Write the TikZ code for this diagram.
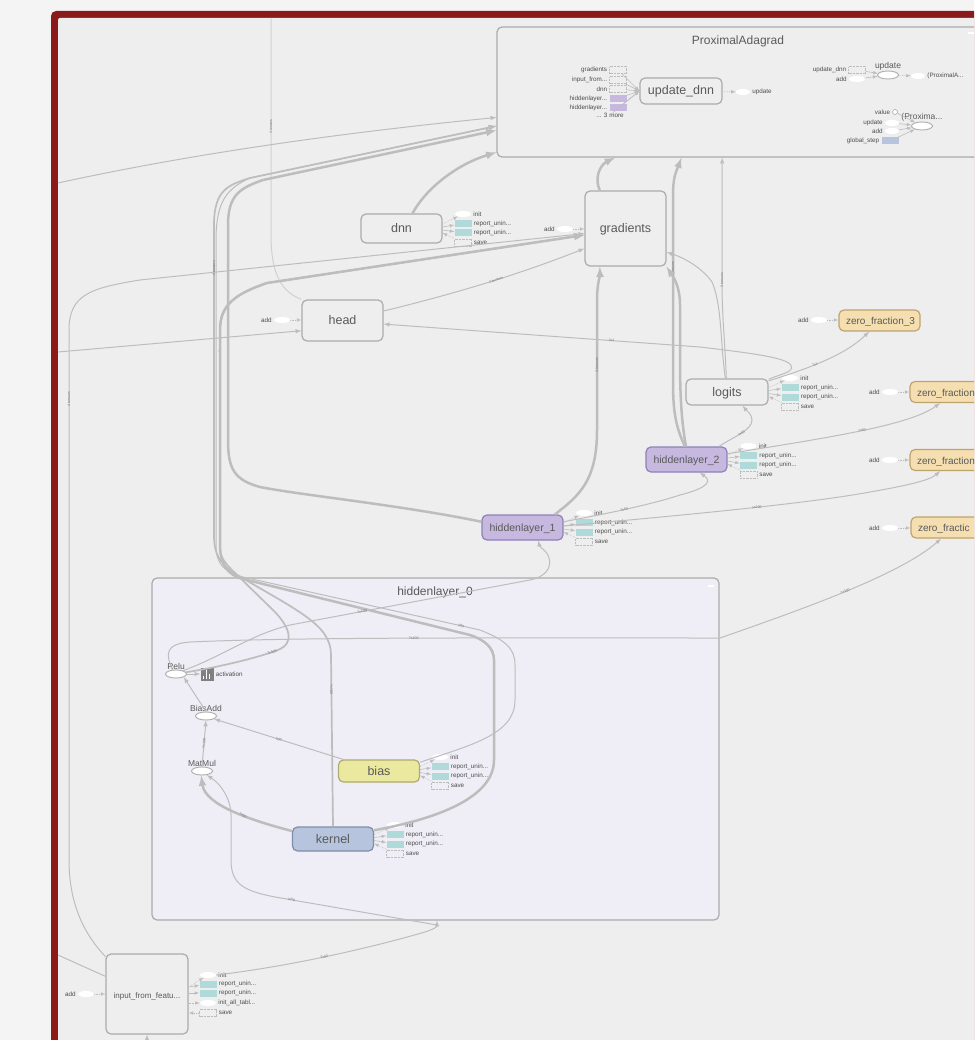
\documentclass[tikz,border=0pt]{standalone}
\usepackage{fontspec}
\setmainfont{Liberation Sans}
\usetikzlibrary{positioning,arrows,calc,shapes.geometric}
\definecolor{pagebg}{HTML}{F4F4F4}
\definecolor{framered}{HTML}{8B1A1A}
\definecolor{graphbg}{HTML}{EEEEEE}
\definecolor{groupbg}{HTML}{EFEDF5}
\definecolor{linegray}{HTML}{BDBDBD}
\definecolor{boxline}{HTML}{ABABAB}
\definecolor{textgray}{HTML}{5A5A5A}
\definecolor{hiddenfill}{HTML}{C6B8DF}
\definecolor{hiddenline}{HTML}{8F80B8}
\definecolor{biasfill}{HTML}{EBE89F}
\definecolor{biasline}{HTML}{AEAB6E}
\definecolor{kernelfill}{HTML}{B6C4DE}
\definecolor{kernelline}{HTML}{7F8EA8}
\definecolor{zerofill}{HTML}{F5DEB0}
\definecolor{zeroline}{HTML}{BFA36E}
\definecolor{reportfill}{HTML}{B0DADA}
\tikzset{
	mainbox/.style={draw=boxline, line width=1.2pt, rounded corners=5pt, fill=graphbg, inner sep=0pt, text=textgray, text height=8pt, text depth=0pt, font=\fontsize{12.5}{14}\selectfont},
	hiddenbox/.style={mainbox, minimum width=81pt, minimum height=25pt, fill=hiddenfill, draw=hiddenline, font=\fontsize{10.5}{12}\selectfont},
	zerobox/.style={mainbox, minimum width=81pt, minimum height=21pt, fill=zerofill, draw=zeroline, font=\fontsize{10}{12}\selectfont, text width=67pt, align=left},
	groupbox/.style={draw=boxline, line width=1.2pt, rounded corners=5pt, inner sep=0pt},
	grouptitle/.style={text=textgray, font=\fontsize{12}{13}\selectfont, inner sep=0pt, text height=8pt, text depth=0pt},
	opellipse/.style={ellipse, draw=boxline, line width=0.9pt, fill=white, inner sep=0pt, minimum width=21pt, minimum height=8pt},
	auxinit/.style={ellipse, fill=white, minimum width=16pt, minimum height=6pt, inner sep=0pt},
	auxreport/.style={fill=reportfill, minimum width=17pt, minimum height=7pt, inner sep=0pt},
	auxsave/.style={draw=linegray, densely dotted, line width=0.4pt, minimum width=17pt, minimum height=7pt, inner sep=0pt},
	auxlabel/.style={text=black!70, font=\fontsize{6.3}{7}\selectfont, inner sep=2pt},
	oplabel/.style={text=textgray, font=\fontsize{8.5}{9}\selectfont, inner sep=0pt},
	auxarrow/.style={linegray, line width=0.6pt, -latex},
	edgethin/.style={linegray, line width=1pt, -latex},
	edgemid/.style={linegray, line width=1.7pt, -latex},
	edgethick/.style={linegray, line width=2.5pt, -latex},
	edgelabel/.style={sloped, text=black!55, font=\fontsize{3.5}{4}\selectfont, inner sep=0.5pt}
}
\newcommand{\auxrow}[8]{
	\node[#3, label={[auxlabel]right:#6}] (#1#2) at (#4,#5) {};
	\draw[auxarrow, #8] ([yshift=#7pt]#1.east) -- (#1#2);
}
\newcommand{\auxgroup}[3]{
	\auxrow{#1}{init}{auxinit}{#2}{#3}{init}{4.5}{densely dotted}
	\auxrow{#1}{repa}{auxreport}{#2}{#3+9.5}{report\_unin...}{1.5}{}
	\auxrow{#1}{repb}{auxreport}{#2}{#3+19}{report\_unin...}{-1.5}{}
	\auxrow{#1}{save}{auxsave}{#2}{#3+28.5}{save}{-4.5}{latex-, densely dotted}
}
\newcommand{\addin}[3]{
	\node[auxinit, label={[auxlabel]left:add}] (add#1) at (#2,#3) {};
	\draw[auxarrow, densely dotted] (add#1) -- (add#1 -| #1.west);
}
\begin{document}
\begin{tikzpicture}[x=1pt, y=-1pt]
	\useasboundingbox (0,0) rectangle (974,1040);
	\clip (0,0) rectangle (974,1040);
	\fill[pagebg] (0,0) rectangle (974,1040);
	\fill[framered, rounded corners=5pt] (51,11) rectangle (1000,1070);
	\fill[graphbg, rounded corners=2pt] (58,18) rectangle (1000,1070);
	\fill[zerofill!70!orange] (971,155) rectangle (974,158);

	\node[groupbox, fill=graphbg, minimum width=483pt, minimum height=130pt] (prox) at (738.5,92) {};
	\node[groupbox, fill=groupbg, minimum width=567pt, minimum height=342pt] (hidden0) at (435.5,749) {};
	\node[grouptitle] (proxtitle) at (738,41) {ProximalAdagrad};
	\node[grouptitle] (hidden0title) at (435,591) {hiddenlayer\_0};
	\node[fill=white, minimum width=6pt, minimum height=1.5pt, inner sep=0pt] (proxbtn) at (971,33) {};
	\node[fill=white, minimum width=6pt, minimum height=1.5pt, inner sep=0pt] (hidden0btn) at (711,586) {};

	\node[mainbox, minimum width=81pt, minimum height=75pt] (gradients) at (625.5,228.5) {gradients};
	\node[mainbox, minimum width=81pt, minimum height=29pt] (dnn) at (401.5,228.5) {dnn};
	\node[mainbox, minimum width=81pt, minimum height=41pt] (head) at (342.5,320.5) {head};
	\node[mainbox, minimum width=82pt, minimum height=26pt] (logits) at (727,392) {logits};
	\node[hiddenbox] (hidden2) at (686.5,459.5) {hiddenlayer\_2};
	\node[hiddenbox] (hidden1) at (522.5,527.5) {hiddenlayer\_1};
	\node[zerobox] (zero3) at (879.5,320.5) {zero\_fraction\_3};
	\node[zerobox] (zero2) at (950.5,392) {zero\_fraction};
	\node[zerobox] (zero1) at (950.5,460) {zero\_fraction};
	\node[zerobox] (zero0) at (951.5,527.5) {zero\_fractic};
	\node[mainbox, minimum width=81pt, minimum height=22pt, fill=biasfill, draw=biasline] (bias) at (379,771) {bias};
	\node[mainbox, minimum width=81pt, minimum height=24pt, fill=kernelfill, draw=kernelline] (kernel) at (333,839) {kernel};
	\node[mainbox, minimum width=82pt, minimum height=80pt, font=\fontsize{8}{9}\selectfont] (input) at (147,994) {input\_from\_featu...};
	\node[mainbox, minimum width=82pt, minimum height=26pt] (updatednn) at (681,91) {update\_dnn};

	\node[opellipse, label={[oplabel]above:Relu}] (relu) at (176,674) {};
	\node[opellipse, label={[oplabel]above:BiasAdd}] (biasadd) at (206,716) {};
	\node[opellipse, label={[oplabel]above:MatMul}] (matmul) at (202,771) {};
	\node[opellipse, label={[oplabel]above:update}] (updateop) at (888,75) {};
	\node[opellipse, label={[oplabel]above:(Proxima...}] (proxop) at (922,126) {};
	\node[fill=gray, minimum size=13pt, inner sep=0pt, label={[auxlabel]right:activation}] (activation) at (207,674) {};
	\fill[white] (202.5,676) rectangle (204,679);
	\fill[white] (205.5,670) rectangle (207,679);
	\fill[white] (208.5,674) rectangle (210,679);

	\auxgroup{dnn}{463}{214}
	\auxgroup{logits}{790}{378}
	\auxgroup{hidden2}{748.5}{446}
	\auxgroup{hidden1}{584}{513}
	\auxgroup{bias}{440}{757}
	\auxgroup{kernel}{395}{825}
	\auxrow{input}{init}{auxinit}{208}{975}{init}{7}{densely dotted}
	\auxrow{input}{repa}{auxreport}{208}{984}{report\_unin...}{7}{}
	\auxrow{input}{repb}{auxreport}{208}{993}{report\_unin...}{1}{}
	\auxrow{input}{tabl}{auxinit}{208}{1003}{init\_all\_tabl...}{-9}{densely dotted}
	\auxrow{input}{save}{auxsave}{208}{1013}{save}{-19}{latex-, densely dotted}
	\addin{gradients}{565}{229}
	\addin{head}{282}{320}
	\addin{zero3}{819}{320}
	\addin{zero2}{890}{392}
	\addin{zero1}{890}{460}
	\addin{zero0}{890}{528}
	\addin{input}{86}{994}

	\node[auxsave, label={[auxlabel]left:gradients}] (ingrad) at (618,70) {};
	\node[auxsave, label={[auxlabel]left:input\_from...}] (ininput) at (618,80) {};
	\node[auxsave, label={[auxlabel]left:dnn}] (indnn) at (618,89) {};
	\node[auxsave, fill=hiddenfill, draw=none, label={[auxlabel]left:hiddenlayer...}] (inhida) at (618,98.5) {};
	\node[auxsave, fill=hiddenfill, draw=none, label={[auxlabel]left:hiddenlayer...}] (inhidb) at (618,108) {};
	\node[auxlabel, inner sep=0pt] (inmore) at (610,115) {... 3 more};
	\foreach \src in {ingrad,ininput,indnn,inhida,inhidb,inmore}
		\draw[auxarrow] (\src) -- (updatednn.west);
	\node[auxinit, minimum width=14pt, label={[auxlabel]right:update}] (outupdate) at (743,92) {};
	\draw[auxarrow, densely dotted] (updatednn) -- (outupdate);

	\node[auxsave, label={[auxlabel]left:update\_dnn}] (upin) at (857,70) {};
	\node[auxinit, label={[auxlabel]left:add}] (upadd) at (857,79) {};
	\node[auxinit, minimum width=14pt, label={[auxlabel]right:(ProximalA...}] (upout) at (918,76) {};
	\draw[auxarrow] (upin) -- (updateop);
	\draw[auxarrow] (upadd) -- (updateop);
	\draw[auxarrow, densely dotted] (updateop) -- (upout);
	\node[circle, draw=boxline, line width=0.6pt, fill=white, minimum size=5pt, inner sep=0pt, label={[auxlabel]left:value}] (pval) at (895,112) {};
	\node[auxinit, minimum width=14pt, label={[auxlabel]left:update}] (pupdate) at (892,123) {};
	\node[auxinit, minimum width=14pt, label={[auxlabel]left:add}] (padd) at (892,131) {};
	\node[auxsave, draw=none, fill=kernelfill, label={[auxlabel]left:global\_step}] (pstep) at (890,141) {};
	\foreach \src in {pval,pupdate,padd,pstep}
		\draw[auxarrow] (\src) -- (proxop);

	\coordinate (topin) at (271,18);
	\coordinate (leftproxin) at (58,183);
	\coordinate (leftheadin) at (58,352);
	\coordinate (leftinputin) at (58,955);
	\coordinate (bottomin) at (147,1040);
	\coordinate (matin) at (437,925);

	\draw[linegray!70, line width=1pt] (head.north west) .. controls (282,292) and (271,275) .. (271,235) -- node[edgelabel] {3 tensors} (topin);
	\draw[edgethin] (leftproxin) .. controls (200,152) and (350,132) .. (prox.186.4);
	\draw[edgethin] (leftheadin) -- (head.194.5);
	\draw[linegray, line width=1pt] (leftinputin) -- (input.157.5);
	\draw[edgethin] (bottomin) -- (input.south);
	\draw[edgethin] (input.138.7) .. controls (85,935) and (69,905) .. (69,860) -- node[edgelabel, pos=.87] {4 tensors} (69,330) .. controls (69,295) and (90,288) .. (140,280) -- (gradients.187);

	\draw[edgemid] (kernel.north) -- node[edgelabel, pos=.8] {?x100} (331,655) .. controls (331,625) and (300,612) .. (232,572) .. controls (220,562) and (214,555) .. (214,535) -- node[edgelabel, pos=.86] {3 tensors} (214,225) .. controls (214,190) and (228,185) .. (250,178) -- (prox.188.7);
	\draw[edgethick] (kernel.12) .. controls (430,820) and (494,800) .. (494,760) -- (494,660) .. controls (494,648) and (485,640) .. (470,635) -- (243,579) .. controls (228,575) and (220,565) .. (220,545) -- node[edgelabel, pos=.93] {3 tensors} (220,330) .. controls (220,305) and (235,294) .. (267,283) -- (gradients.189);
	\draw[edgethin] (bias.12) .. controls (470,745) and (515,735) .. (515,700) -- (515,665) .. controls (515,648) and (505,640) .. (480,630) -- node[edgelabel, pos=.08] {100} (243,577) .. controls (225,572) and (216,565) .. (216,545) -- (216,240) .. controls (216,200) and (228,188) .. (250,178) -- (prox.188.7);
	\draw[edgethick] (hidden1.172) .. controls (400,505) and (300,495) .. (260,487) .. controls (235,480) and (228,470) .. (228,440) -- (228,225) .. controls (228,195) and (240,188) .. (263,180) -- (prox.189.5);
	\draw[edgemid] (relu.10) .. controls (220,667) and (260,657) .. node[edgelabel, pos=.9] {?x100} (278,650) .. controls (295,643) and (290,628) .. (275,612) -- (232,570) .. controls (222,560) and (220,555) .. (220,545) -- (220,330) .. controls (220,305) and (235,294) .. (267,283) -- (gradients.189);
	\draw[edgethin] (relu.25) .. controls (225,655) and (250,635) .. (290,625) -- node[edgelabel, pos=.3] {?x100} (530,580) .. controls (545,577) and (552,568) .. (549,558) .. controls (547,550) and (540,548) .. (hidden1.-40.8);
	\draw[edgethin] (relu.130) .. controls (166,655) and (164,644) .. (190,642) .. controls (300,637) and (500,638) .. node[edgelabel, pos=.5] {?x100} (720,638) .. controls (800,610) and (900,575) .. node[edgelabel, pos=.5] {?x100} (zero0.227);

	\draw[edgethick] (hidden1.22) .. controls (580,495) and (597,480) .. (597,430) -- node[edgelabel] {3 tensors} (597,300) .. controls (597,285) and (600,275) .. (gradients.236);
	\draw[edgethin] (hidden1.8) .. controls (600,515) and (650,505) .. node[edgelabel, pos=.5] {?x50} (680,495) .. controls (700,490) and (715,483) .. (hidden2.-45);
	\draw[edgethin] (hidden1.2) .. controls (650,518) and (800,505) .. node[edgelabel, pos=.6] {?x100} (870,492) .. controls (910,485) and (930,480) .. (zero1.227);
	\draw[edgethin] (hidden2.8) .. controls (833,437) and (910,425) .. node[edgelabel, pos=.5] {?x50} (zero2.227);
	\draw[edgethin] (hidden2.22) .. controls (735,436) and (752,430) .. node[edgelabel, pos=.5] {?x50} (752,420) .. controls (752,414) and (746,410) .. (logits.-41);
	\draw[edgethick] (hidden2.97) .. controls (675,425) and (673,410) .. (673,380) -- node[edgelabel, pos=.6] {3 tensors} (673,195) .. controls (673,175) and (677,170) .. (prox.229);
	\draw[edgethick] (hidden2.92) .. controls (682,425) and (680,400) .. (680,360) -- (680,305) .. controls (680,285) and (672,275) .. (gradients.-43);
	\draw[edgethin] (logits.93) .. controls (725,340) and (722,320) .. (722,280) -- node[edgelabel, pos=0] {3 tensors} (prox.256.8);
	\draw[edgethin] (logits.97) .. controls (720,340) and (722,305) .. (712,282) .. controls (702,268) and (685,258) .. (gradients.-30);
	\draw[edgethin] (logits.15) .. controls (810,368) and (845,355) .. node[edgelabel, pos=.4] {?x1} (zero3.227);
	\draw[edgethin] (logits.17) .. controls (780,374) and (797,372) .. (790,364) .. controls (782,357) and (750,353) .. (700,347) -- node[edgelabel, pos=.28] {?x1} (head.-5);
	\draw[edgethin] (head.13) .. controls (470,290) and (530,270) .. node[edgelabel, pos=.5] {2 tensors} (gradients.206);
	\draw[edgethick] (dnn.54) .. controls (425,190) and (455,165) .. (prox.194.8);
	\draw[edgethick] (gradients.124) .. controls (594,178) and (600,165) .. (prox.208.7);

	\draw[edgethin] (bias.162) -- node[edgelabel] {100} (biasadd.-20);
	\draw[edgethick] (kernel.169) .. controls (250,820) and (205,805) .. node[edgelabel, pos=.4] {?x50} (matmul.-100);
	\draw[edgethin] (matmul.north) -- node[edgelabel] {?x100} (biasadd.south);
	\draw[edgethin] (biasadd.north) -- (relu.south east);
	\draw[edgethin] (relu) -- (activation);
	\draw[edgethin] (inputinit.east) .. controls (300,965) and (380,945) .. node[edgelabel, pos=.45] {?x50} (425,932) .. controls (434,929) and (437,927) .. ([xshift=1.5pt]hidden0.south);
	\draw[edgethin] (matin) -- node[edgelabel, pos=.9] {?x50} (275,897) .. controls (245,891) and (231,885) .. (231,860) -- (231,815) .. controls (231,800) and (222,785) .. (matmul.-40);
\end{tikzpicture}
\end{document}
